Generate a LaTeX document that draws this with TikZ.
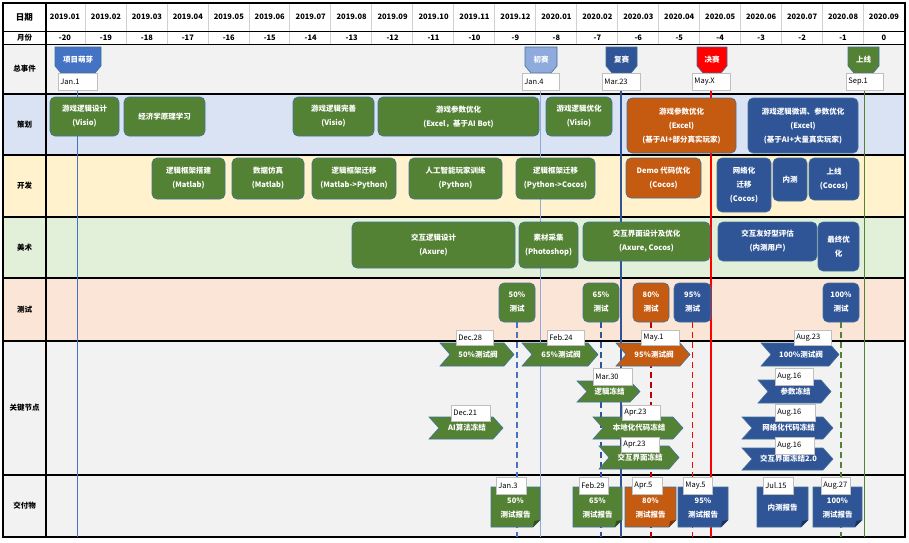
\documentclass[tikz,border=0pt]{standalone}
\usepackage{fontspec}
\setmainfont{Noto Sans CJK SC}
\pgfdeclarelayer{bg}
\pgfdeclarelayer{lines}
\pgfsetlayers{bg,lines,main}

\definecolor{cgreen}{HTML}{548235}
\definecolor{corange}{HTML}{C55A11}
\definecolor{cnavy}{HTML}{2F5597}
\definecolor{cblue}{HTML}{4472C4}
\definecolor{clight}{HTML}{8FAADC}
\definecolor{cedge}{HTML}{41719C}
\definecolor{cred}{HTML}{FF0000}
\definecolor{cdarkred}{HTML}{C00000}
\definecolor{rowgray}{HTML}{F2F2F2}
\definecolor{rowplan}{HTML}{DAE3F3}
\definecolor{rowdev}{HTML}{FFF2CC}
\definecolor{rowart}{HTML}{E2F0D9}
\definecolor{rowtest}{HTML}{FBE5D6}
\definecolor{tagedge}{HTML}{BFBFBF}
\definecolor{hdrsep}{HTML}{D0D0D0}

\tikzset{
  gridline/.style={line width=1.4pt, black},
  hdrsepline/.style={line width=0.6pt, hdrsep},
  hdr/.style={font=\fontsize{7.5}{9}\selectfont\bfseries, inner sep=0pt},
  rowlabel/.style={font=\fontsize{7.5}{9}\selectfont\bfseries, inner sep=0pt},
  taskbox/.style={draw=cedge, line width=0.6pt, rounded corners=5pt, text=white,
    align=center, inner sep=0pt, font=\fontsize{7.5}{14}\selectfont\bfseries},
  shapetext/.style={text=white, align=center, inner sep=0pt,
    font=\fontsize{7.5}{14}\selectfont\bfseries},
  outlined/.style={draw=cedge, line width=0.6pt},
  tagbox/.style={draw=tagedge, fill=white, line width=0.5pt, inner sep=0pt},
  tagtext/.style={font=\fontsize{7.5}{9}\selectfont, inner sep=0pt, anchor=west},
  eventline/.style={line width=1.9pt},
  testline/.style={line width=1.9pt, dash pattern=on 6pt off 4pt},
}

% date tag: name, x1, y1, x2, y2, text
\newcommand\mktag[6]{%
  \node[tagbox, minimum width={#4pt-#2pt}, minimum height={#5pt-#3pt}] (#1) at ({(#2+#4)/2},{(#3+#5)/2}) {};
  \node[tagtext] (#1-t) at ([xshift=2.5pt]#1.west) {#6};
}
% rounded task box: name, x1, y1, x2, y2, fill, text
\newcommand\mktask[7]{%
  \node[taskbox, fill=#6, minimum width={#4pt-#2pt}, minimum height={#5pt-#3pt}] (#1) at ({(#2+#4)/2},{(#3+#5)/2}) {#7};
}
% chevron milestone: name, x1, y1, x2, y2, fill, text
\newcommand\mkchev[7]{%
  \path[outlined, fill=#6] (#2,#3) -- ({#4-10},#3) -- (#4,{(#3+#5)/2}) -- ({#4-10},#5) -- (#2,#5) -- ({#2+10},{(#3+#5)/2}) -- cycle;
  \node[shapetext] (#1) at ({(#2+#4)/2+1},{(#3+#5)/2}) {#7};
}
% document with folded corner: name, x1, y1, x2, y2, fill, text
\newcommand\mkdoc[7]{%
  \path[outlined, fill=#6] (#2,#3) -- (#4,#3) -- (#4,{#5-7}) -- ({#4-7},#5) -- (#2,#5) -- cycle;
  \fill[#6!60!black] (#4,{#5-7}) -- ({#4-6},{#5-6}) -- ({#4-7},#5) -- cycle;
  \node[shapetext] (#1) at ({(#2+#4)/2},{(#3+#5)/2+1}) {#7};
}
% event banner: name, x1, x2, fill, text
\newcommand\mkevent[5]{%
  \path[outlined, fill=#4] (#2,47) -- (#3,47) -- (#3,66) -- ({#3-6},73) -- ({#2+6},73) -- (#2,66) -- cycle;
  \node[shapetext] (#1) at ({(#2+#3)/2},60) {#5};
}

\begin{document}
\begin{tikzpicture}[x=1pt, y=-1pt]
\useasboundingbox (0,0) rectangle (909,542);
\coordinate (bottom) at (0,537);

% ---------- row backgrounds and grid ----------
\begin{pgfonlayer}{bg}
  \fill[white] (0,0) rectangle (909,542);
  \fill[rowgray] (3,44.5) rectangle (905,94);
  \fill[rowplan] (3,94) rectangle (905,155);
  \fill[rowdev]  (3,155) rectangle (905,217);
  \fill[rowart]  (3,217) rectangle (905,278);
  \fill[rowtest] (3,278) rectangle (905,341);
  \fill[rowgray] (3,341) rectangle (905,537);
  \foreach \k in {1,...,20}
    \draw[hdrsepline] ({85+(\k-1)*40.95},3) -- ({85+(\k-1)*40.95},44.5);
  \draw[line width=1pt] (3,31) -- (905,31);
  \foreach \y in {44.5,94,155,217,278,341,475}
    \draw[gridline] (3,\y) -- (905,\y);
  \draw[gridline] (46,3) -- (46,537);
  \draw[gridline] (3,3) rectangle (905,537);
\end{pgfonlayer}

% ---------- header ----------
\node[hdr, font=\fontsize{8.5}{10}\selectfont\bfseries] (hdate) at (24.5,17) {日期};
\node[hdr] (hmonth) at (24.5,38) {月份};
\foreach \m [count=\k from 0] in {2019.01,2019.02,2019.03,2019.04,2019.05,2019.06,2019.07,2019.08,2019.09,2019.10,2019.11,2019.12,2020.01,2020.02,2020.03,2020.04,2020.05,2020.06,2020.07,2020.08,2020.09}{
  \pgfmathtruncatemacro\mrel{\k-20}
  \node[hdr] (m\k) at ({65+\k*40.95},17) {\m};
  \node[hdr] (n\k) at ({65+\k*40.95},38) {\mrel};
}

% ---------- row labels ----------
\node[rowlabel] (lev)   at (24.5,69)    {总事件};
\node[rowlabel] (lplan) at (24.5,124.5) {策划};
\node[rowlabel] (ldev)  at (24.5,186)   {开发};
\node[rowlabel] (lart)  at (24.5,247.5) {美术};
\node[rowlabel] (ltest) at (24.5,309.5) {测试};
\node[rowlabel] (lkey)  at (24.5,408)   {关键节点};
\node[rowlabel] (ldel)  at (24.5,506)   {交付物};

% ---------- overall events ----------
\mkevent{ev1}{55}{101}{cblue}{项目萌芽}
\mktag{ev1d}{58}{73}{97}{90}{Jan.1}
\mkevent{ev2}{525}{557}{clight}{初赛}
\mktag{ev2d}{522}{73}{559}{90}{Jan.4}
\mkevent{ev3}{606}{637}{cnavy}{复赛}
\mktag{ev3d}{602}{73}{640}{90}{Mar.23}
\mkevent{ev4}{697}{727}{cred}{决赛}
\mktag{ev4d}{692}{73}{730}{90}{May.X}
\mkevent{ev5}{848}{879}{cgreen}{上线}
\mktag{ev5d}{846}{73}{883}{90}{Sep.1}

% ---------- planning ----------
\mktask{p1}{50}{97}{119}{136}{cgreen}{游戏逻辑设计\\(Visio)}
\mktask{p2}{124}{97}{205}{136}{cgreen}{经济学原理学习}
\mktask{p3}{293}{97}{374}{136}{cgreen}{游戏逻辑完善\\(Visio)}
\mktask{p4}{378}{97}{539}{136}{cgreen}{游戏参数优化\\(Excel，基于AI Bot)}
\mktask{p5}{546}{97}{612}{136}{cgreen}{游戏逻辑优化\\(Visio)}
\mktask{p6}{627}{98}{736}{153}{corange}{游戏参数优化\\(Excel)\\(基于AI+部分真实玩家)}
\mktask{p7}{748}{98}{858}{153}{cnavy}{游戏逻辑微调、参数优化\\(Excel)\\(基于AI+大量真实玩家)}

% ---------- development ----------
\mktask{d1}{152}{158}{225}{199}{cgreen}{逻辑框架搭建\\(Matlab)}
\mktask{d2}{232}{158}{304}{199}{cgreen}{数据仿真\\(Matlab)}
\mktask{d3}{312}{158}{396}{199}{cgreen}{逻辑框架迁移\\(Matlab->Python)}
\mktask{d4}{409}{158}{502}{199}{cgreen}{人工智能玩家训练\\(Python)}
\mktask{d5}{516}{158}{595}{199}{cgreen}{逻辑框架迁移\\(Python->Cocos)}
\mktask{d6}{626}{158}{701}{198}{corange}{Demo 代码优化\\(Cocos)}
\mktask{d7}{717}{158}{771}{212}{cnavy}{网络化\\迁移\\(Cocos)}
\mktask{d8}{773}{158}{807}{201}{cnavy}{内测}
\mktask{d9}{809}{158}{859}{200}{cnavy}{上线\\(Cocos)}

% ---------- art ----------
\mktask{a1}{352}{222}{515}{268}{cgreen}{交互逻辑设计\\(Axure)}
\mktask{a2}{519}{222}{578}{268}{cgreen}{素材采集\\(Photoshop)}
\mktask{a3}{583}{222}{710}{261}{cgreen}{交互界面设计及优化\\(Axure, Cocos)}
\mktask{a4}{718}{222}{817}{261}{cnavy}{交互友好型评估\\(内测用户)}
\mktask{a5}{818}{222}{859}{271}{cnavy}{最终优\\化}

% ---------- testing ----------
\mktask{t1}{499}{283}{535}{322}{cgreen}{50\%\\测试}
\mktask{t2}{583}{283}{619}{322}{cgreen}{65\%\\测试}
\mktask{t3}{633}{283}{669}{322}{corange}{80\%\\测试}
\mktask{t4}{674}{283}{711}{322}{cnavy}{95\%\\测试}
\mktask{t5}{823}{283}{859}{322}{cnavy}{100\%\\测试}

% ---------- key milestones ----------
\mkchev{k1}{440}{343}{514}{366}{cgreen}{50\%测试阀}
\mktag{k1d}{456}{330}{493}{345}{Dec.28}
\mkchev{k2}{522}{343}{598}{366}{cgreen}{65\%测试阀}
\mktag{k2d}{547}{330}{584}{345}{Feb.24}
\mkchev{k3}{616}{343}{690}{366}{corange}{95\%测试阀}
\mktag{k3d}{641}{330}{679}{345}{May.1}
\mkchev{k4}{761}{343}{839}{366}{cnavy}{100\%测试阀}
\mktag{k4d}{794}{330}{831}{345}{Aug.23}
\mkchev{k5}{577}{381}{640}{402}{cgreen}{逻辑冻结}
\mktag{k5d}{593}{368}{632}{385}{Mar.30}
\mkchev{k6}{758}{380}{831}{403}{cnavy}{参数冻结}
\mktag{k6d}{775}{368}{813}{385}{Aug.16}
\mkchev{k7}{429}{417}{503}{439}{cgreen}{AI算法冻结}
\mktag{k7d}{451}{405}{490}{421}{Dec.21}
\mkchev{k8}{593}{417}{683}{439}{cgreen}{本地化代码冻结}
\mktag{k8d}{622}{405}{660}{420}{Apr.23}
\mkchev{k9}{742}{417}{833}{439}{cnavy}{网络化代码冻结}
\mktag{k9d}{775}{404}{815}{421}{Aug.16}
\mkchev{k10}{599}{446}{679}{469}{cgreen}{交互界面冻结}
\mktag{k10d}{621}{437}{659}{452}{Apr.23}
\mkchev{k11}{742}{448}{833}{470}{cnavy}{交互界面冻结2.0}
\mktag{k11d}{775}{437}{814}{454}{Aug.16}

% ---------- deliverables ----------
\mkdoc{v1}{491}{487}{540}{527}{cgreen}{50\%\\测试报告}
\mktag{v1d}{496}{477}{526}{494}{Jan.3}
\mkdoc{v2}{573}{487}{622}{527}{cgreen}{65\%\\测试报告}
\mktag{v2d}{579}{477}{608}{494}{Feb.29}
\mkdoc{v3}{625}{487}{676}{527}{corange}{80\%\\测试报告}
\mktag{v3d}{632}{477}{662}{494}{Apr.5}
\mkdoc{v4}{678}{487}{728}{527}{cnavy}{95\%\\测试报告}
\mktag{v4d}{683}{477}{712}{494}{May.5}
\mkdoc{v5}{757}{487}{808}{527}{cnavy}{内测报告}
\mktag{v5d}{763}{477}{793}{494}{Jul.15}
\mkdoc{v6}{813}{487}{862}{527}{cnavy}{100\%\\测试报告}
\mktag{v6d}{821}{477}{850}{494}{Aug.27}

% ---------- timeline lines (under the boxes) ----------
\begin{pgfonlayer}{lines}
  \draw[eventline, cblue]  (ev1d.south) -- (ev1d.south |- bottom);
  \draw[eventline, clight] (ev2d.south) -- (ev2d.south |- bottom);
  \draw[eventline, cnavy]  (ev3d.south) -- (ev3d.south |- bottom);
  \draw[eventline, cred]   (ev4d.south) -- (ev4d.south |- bottom);
  \draw[eventline, cgreen] (ev5d.south) -- (ev5d.south |- bottom);
  \draw[testline, cblue]    (t1.south) -- (t1.south |- bottom);
  \draw[testline, cnavy]    (t2.south) -- (t2.south |- bottom);
  \draw[testline, cdarkred] (t3.south) -- (t3.south |- bottom);
  \draw[testline, cred]     (t4.south) -- (t4.south |- bottom);
  \draw[testline, cgreen]   (t5.south) -- (t5.south |- bottom);
\end{pgfonlayer}
\end{tikzpicture}
\end{document}
